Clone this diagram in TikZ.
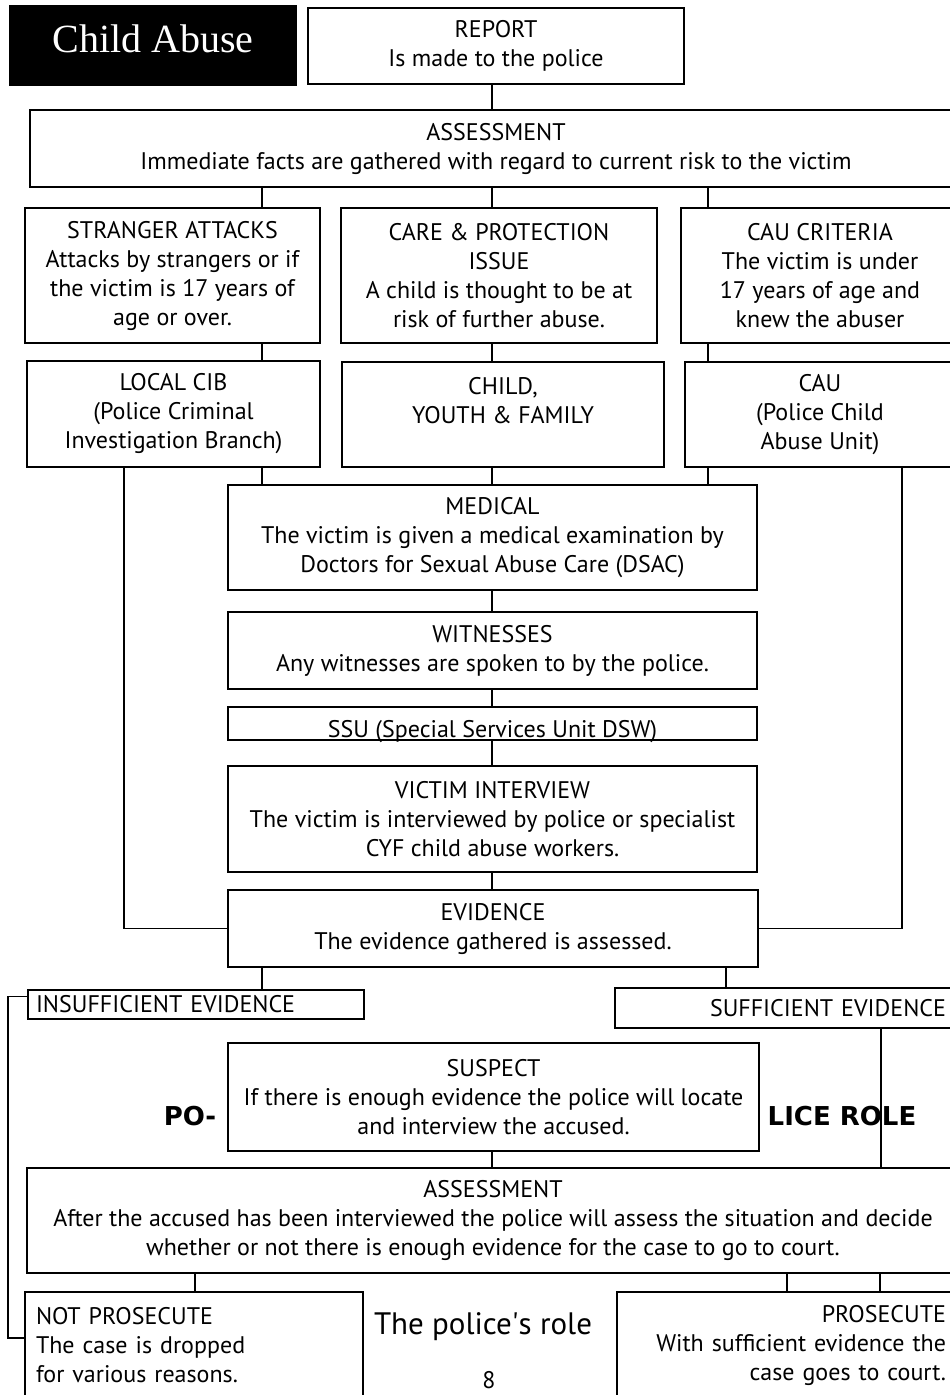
\documentclass[tikz,border=0pt]{standalone}
\usepackage{fontspec}
\setmainfont{PT Sans}
\newfontfamily\titlefont{Liberation Serif}
\newfontfamily\rolefont{DejaVu Sans}
\usetikzlibrary{calc}
\tikzset{
  box/.style={draw,inner sep=0pt,align=center},
  wh/.style 2 args={minimum width=#1,minimum height=#2},
  role/.style={font=\rolefont\bfseries\fontsize{26}{30}\selectfont,anchor=base,inner sep=0pt}
}
\newcommand{\vlink}[3]{\draw (#1,0 |- #2.south) -- (#1,0 |- #3.north);}

\begin{document}
\begin{tikzpicture}[x=1pt,y=-1pt,line width=1.8pt,font=\fontsize{24}{29}\selectfont]
\useasboundingbox (0,0) rectangle (950,1395);
\clip (0,0) rectangle (950,1395);
\node[fill=black,text=white,wh={288}{81},inner sep=0pt,text depth=14pt,font=\titlefont\fontsize{40}{48}\selectfont] (title) at (153,45.5) {Child Abuse};
\node[box,wh={376}{76}] (report) at (496,46) {REPORT\\Is made to the police};
\node[box,wh={932}{77}] (assess) at (496,148.5) {ASSESSMENT\\Immediate facts are gathered with regard to current risk to the victim};
\node[box,wh={295}{135}] (stranger) at (172.5,275.5) {STRANGER ATTACKS\\Attacks by strangers or if\\the victim is 17 years of\\age or over.};
\node[box,wh={316}{135}] (care) at (499,275.5) {CARE \& PROTECTION\\ISSUE\\A child is thought to be at\\risk of further abuse.};
\node[box,wh={278}{135}] (crit) at (820,275.5) {CAU CRITERIA\\The victim is under\\17 years of age and\\knew the abuser};
\node[box,wh={293}{106}] (cib) at (173.5,414) {LOCAL CIB\\(Police Criminal\\Investigation Branch)};
\node[box,wh={322}{105}] (cyf) at (503,414.5) {CHILD,\\YOUTH \& FAMILY\\[-9pt]\strut};
\node[box,wh={270}{105}] (cau) at (820,414.5) {CAU\\(Police Child\\Abuse Unit)};
\node[box,wh={529}{105}] (medical) at (492.5,537.5) {MEDICAL\\The victim is given a medical examination by\\Doctors for Sexual Abuse Care (DSAC)};
\node[box,wh={529}{77}] (witness) at (492.5,650.5) {WITNESSES\\Any witnesses are spoken to by the police.};
\node[box,wh={529}{33}] (ssu) at (492.5,723.5) {\raisebox{-14pt}[0pt][0pt]{SSU (Special Services Unit DSW)}};
\node[box,wh={529}{106}] (victim) at (492.5,819) {VICTIM INTERVIEW\\The victim is interviewed by police or specialist\\CYF child abuse workers.};
\node[box,wh={530}{77}] (evidence) at (493,928.5) {EVIDENCE\\The evidence gathered is assessed.};
\node[box,align=left,text width=320,inner xsep=8pt,minimum height=29] (insuff) at (196,1004.5) {INSUFFICIENT EVIDENCE};
\node[box,align=right,text width=317,inner xsep=14pt,minimum height=40] (suff) at (787.5,1008) {SUFFICIENT EVIDENCE};
\node[box,wh={531}{108}] (suspect) at (493.5,1097) {SUSPECT\\If there is enough evidence the police will locate\\and interview the accused.};
\node[role] (po) at (190,1125) {PO-};
\node[role] (licerole) at (842,1125) {LICE ROLE};
\node[box,wh={932}{105}] (assess2) at (493,1220.5) {ASSESSMENT\\After the accused has been interviewed the police will assess the situation and decide\\whether or not there is enough evidence for the case to go to court.};
\node[box,align=left,text width=316,inner xsep=11pt,minimum height=106] (notpros) at (194,1345) {NOT PROSECUTE\\The case is dropped\\for various reasons.};
\node[box,align=right,text width=310,inner xsep=19pt,minimum height=106] (pros) at (791,1345) {PROSECUTE\\With sufficient evidence the\\case goes to court.};
\node[font=\fontsize{31}{36}\selectfont] (rolecap) at (483,1327) {The police\textquotesingle s role};
\node[anchor=south,inner sep=0pt] (page) at (489,1390) {8};
\vlink{492}{report}{assess}
\vlink{262}{assess}{stranger}
\vlink{492}{assess}{care}
\vlink{708}{assess}{crit}
\vlink{262}{stranger}{cib}
\vlink{492}{care}{cyf}
\vlink{708}{crit}{cau}
\vlink{262}{cib}{medical}
\vlink{492}{cyf}{medical}
\vlink{708}{cau}{medical}
\draw (124,0 |- cib.south) |- (evidence.west);
\draw (902,0 |- cau.south) |- (evidence.east);
\vlink{492}{medical}{witness}
\vlink{492}{witness}{ssu}
\vlink{492}{ssu}{victim}
\vlink{492}{victim}{evidence}
\vlink{262}{evidence}{insuff}
\vlink{726}{evidence}{suff}
\draw ([yshift=8pt]insuff.west) -- ++(-19pt,0) |- ([yshift=7pt]notpros.west);
\vlink{881}{suff}{assess2}
\vlink{492}{suspect}{assess2}
\vlink{195}{assess2}{notpros}
\vlink{787}{assess2}{pros}
\vlink{880}{assess2}{pros}
\end{tikzpicture}
\end{document}
